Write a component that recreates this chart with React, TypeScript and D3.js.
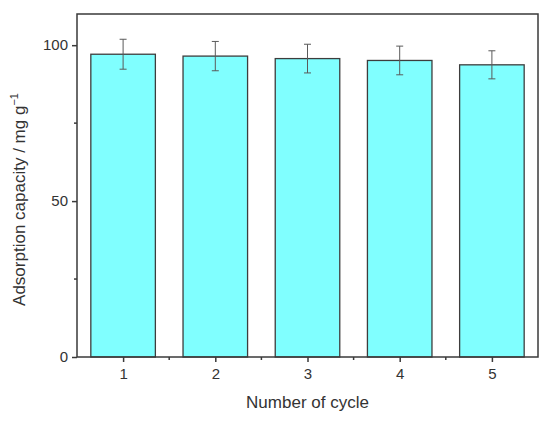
import { useEffect, useRef } from "react"
import * as d3 from "d3"

const cycles = [1, 2, 3, 4, 5]
const capacity = [97.1, 96.5, 95.7, 95.1, 93.7]
const errors = [4.8, 4.7, 4.6, 4.6, 4.5]
const yMajorTicks = [0, 50, 100]
const yMinorTicks = [25, 75]
const xMinorTicks = [1.5, 2.5, 3.5, 4.5]

export default function App() {
  const svgRef = useRef<SVGSVGElement>(null)

  useEffect(() => {
    if (!svgRef.current) return

    d3.select(svgRef.current).selectAll("*").remove()

    const width = 550
    const height = 423
    const margin = { top: 14, right: 12, bottom: 66, left: 77 }
    const chartWidth = width - margin.left - margin.right
    const chartHeight = height - margin.top - margin.bottom
    const axisColor = "#3a3a3a"
    const textColor = "#333"
    const font = "Liberation Sans, Arial, sans-serif"

    const svg = d3
      .select(svgRef.current)
      .attr("width", width)
      .attr("height", height)
      .append("g")
      .attr("transform", `translate(${margin.left},${margin.top})`)

    const x = d3.scaleLinear().domain([0.5, 5.5]).range([0, chartWidth])
    const y = d3.scaleLinear().domain([0, 110]).range([chartHeight, 0])

    const step = x(2) - x(1)
    const barWidth = step * 0.7

    // Bars
    svg
      .selectAll(".bar")
      .data(cycles)
      .enter()
      .append("rect")
      .attr("class", "bar")
      .attr("x", (d) => x(d) - barWidth / 2)
      .attr("y", (_, i) => y(capacity[i]))
      .attr("width", barWidth)
      .attr("height", (_, i) => chartHeight - y(capacity[i]))
      .attr("fill", "#80ffff")
      .attr("stroke", "#3d3d3d")
      .attr("stroke-width", 1.3)

    // Error bars
    const err = svg
      .selectAll(".err")
      .data(cycles)
      .enter()
      .append("g")
      .attr("class", "err")
      .attr("stroke", "#5a5a5a")
      .attr("stroke-width", 1)

    err
      .append("line")
      .attr("x1", (d) => x(d))
      .attr("x2", (d) => x(d))
      .attr("y1", (_, i) => y(capacity[i] + errors[i]))
      .attr("y2", (_, i) => y(capacity[i] - errors[i]))
    err
      .append("line")
      .attr("x1", (d) => x(d) - 3.5)
      .attr("x2", (d) => x(d) + 3.5)
      .attr("y1", (_, i) => y(capacity[i] + errors[i]))
      .attr("y2", (_, i) => y(capacity[i] + errors[i]))
    err
      .append("line")
      .attr("x1", (d) => x(d) - 3.5)
      .attr("x2", (d) => x(d) + 3.5)
      .attr("y1", (_, i) => y(capacity[i] - errors[i]))
      .attr("y2", (_, i) => y(capacity[i] - errors[i]))

    // Frame
    svg
      .append("rect")
      .attr("x", 0)
      .attr("y", 0)
      .attr("width", chartWidth)
      .attr("height", chartHeight)
      .attr("fill", "none")
      .attr("stroke", axisColor)
      .attr("stroke-width", 1.5)

    // X axis
    const xAxis = svg
      .append("g")
      .attr("transform", `translate(0,${chartHeight})`)
      .call(
        d3
          .axisBottom(x)
          .tickValues(cycles)
          .tickFormat(d3.format("d"))
          .tickSize(5)
          .tickPadding(6)
      )
    xAxis.select(".domain").remove()
    xAxis.selectAll("line").attr("stroke", axisColor).attr("stroke-width", 1.5)
    xAxis
      .selectAll("text")
      .attr("fill", textColor)
      .style("font-family", font)
      .style("font-size", "15px")

    svg
      .append("g")
      .selectAll("line")
      .data(xMinorTicks)
      .enter()
      .append("line")
      .attr("x1", (d) => x(d))
      .attr("x2", (d) => x(d))
      .attr("y1", chartHeight)
      .attr("y2", chartHeight + 3)
      .attr("stroke", axisColor)
      .attr("stroke-width", 1.5)

    // Y axis
    const yAxis = svg
      .append("g")
      .call(
        d3
          .axisLeft(y)
          .tickValues(yMajorTicks)
          .tickSize(5)
          .tickPadding(4)
      )
    yAxis.select(".domain").remove()
    yAxis.selectAll("line").attr("stroke", axisColor).attr("stroke-width", 1.5)
    yAxis
      .selectAll("text")
      .attr("fill", textColor)
      .style("font-family", font)
      .style("font-size", "15px")

    svg
      .append("g")
      .selectAll("line")
      .data(yMinorTicks)
      .enter()
      .append("line")
      .attr("x1", 0)
      .attr("x2", -3)
      .attr("y1", (d) => y(d))
      .attr("y2", (d) => y(d))
      .attr("stroke", axisColor)
      .attr("stroke-width", 1.5)

    // X axis label
    svg
      .append("text")
      .attr("x", chartWidth / 2)
      .attr("y", chartHeight + 51)
      .attr("text-anchor", "middle")
      .attr("fill", textColor)
      .style("font-family", font)
      .style("font-size", "17px")
      .text("Number of cycle")

    // Y axis label
    const yLabel = svg
      .append("text")
      .attr("transform", `translate(${-52},${chartHeight / 2 + 14}) rotate(-90)`)
      .attr("text-anchor", "middle")
      .attr("fill", textColor)
      .style("font-family", font)
      .style("font-size", "17px")
    yLabel.append("tspan").text("Adsorption capacity / mg g")
    yLabel
      .append("tspan")
      .attr("dy", -7)
      .style("font-size", "11px")
      .text("\u22121")
  }, [])

  return (
    <svg
      ref={svgRef}
      style={{ position: "absolute", left: 0, top: 0, background: "#fff" }}
    ></svg>
  )
}
